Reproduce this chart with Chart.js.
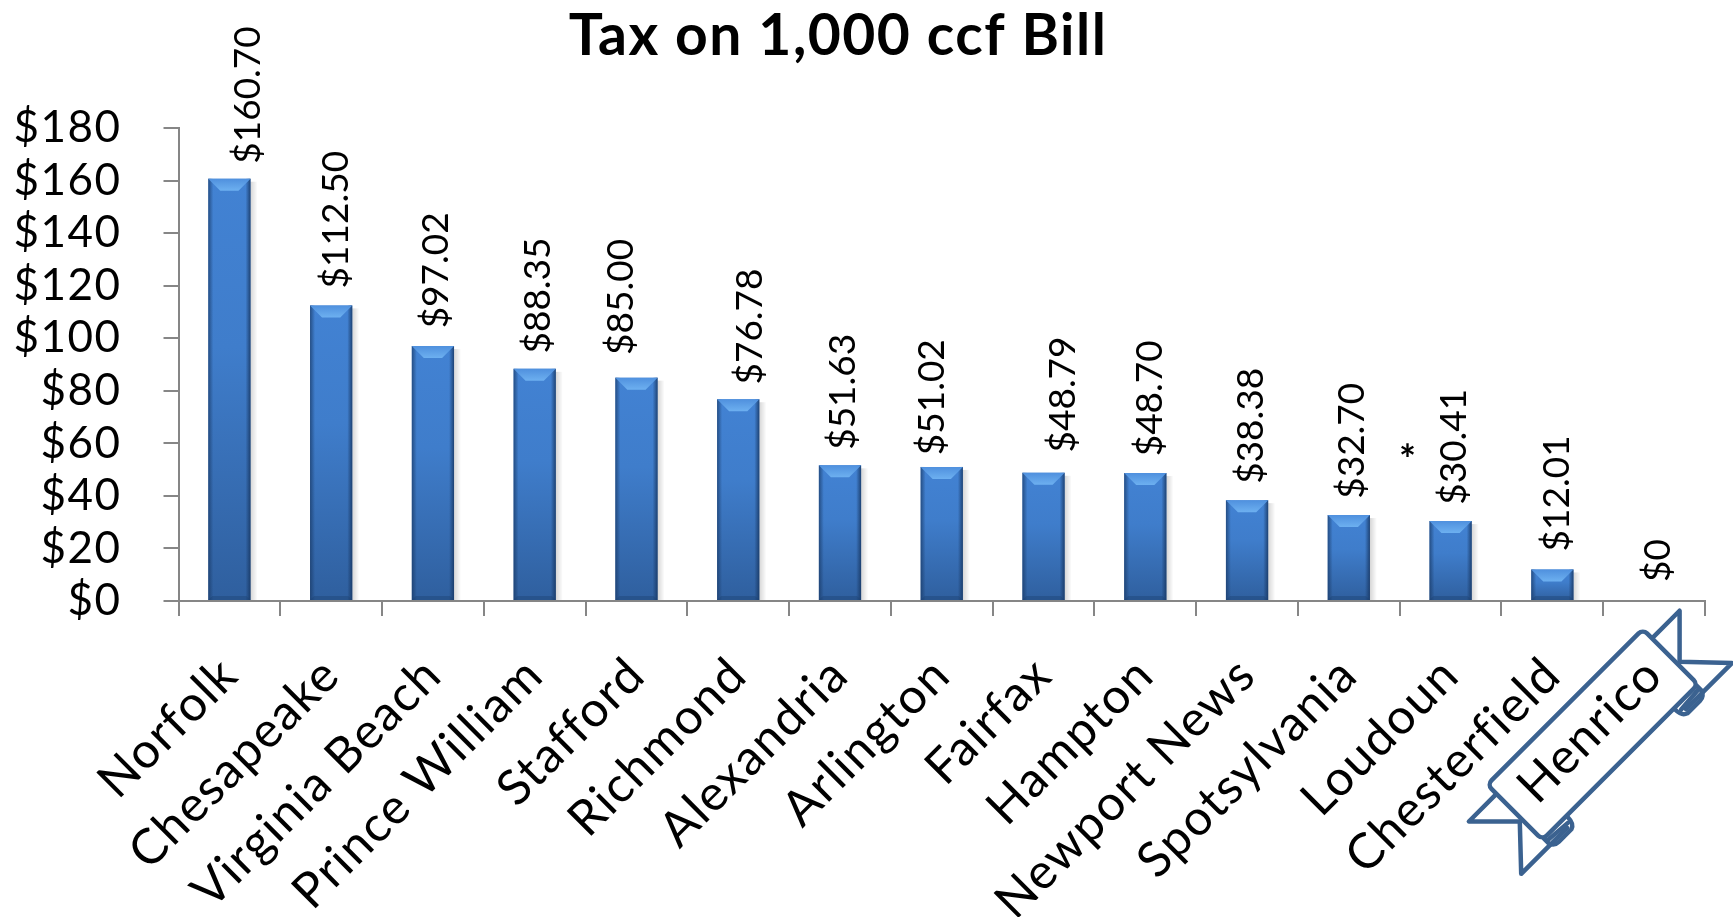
<!DOCTYPE html>
<html>
<head>
<meta charset="utf-8">
<title>Tax on 1,000 ccf Bill</title>
<script src="https://cdn.jsdelivr.net/npm/chart.js@4"></script>
<style>
html, body { margin: 0; padding: 0; background: #fff; }
#wrap { width: 1733px; height: 917px; position: relative; }
</style>
</head>
<body>
<div id="wrap"><canvas id="chart" width="1733" height="917"></canvas></div>
<script>
const categories = ['Norfolk', 'Chesapeake', 'Virginia Beach', 'Prince William', 'Stafford', 'Richmond', 'Alexandria', 'Arlington', 'Fairfax', 'Hampton', 'Newport News', 'Spotsylvania', 'Loudoun', 'Chesterfield', 'Henrico'];
const taxValues = [160.70, 112.50, 97.02, 88.35, 85.00, 76.78, 51.63, 51.02, 48.79, 48.70, 38.38, 32.70, 30.41, 12.01, 0];
const valueLabels = ['$160.70', '$112.50', '$97.02', '$88.35', '$85.00', '$76.78', '$51.63', '$51.02', '$48.79', '$48.70', '$38.38', '$32.70', '$30.41', '$12.01', '$0'];
const footnoteCategory = 'Loudoun';
const highlightCategory = 'Henrico';

// the labels were dragged by hand in the original, so each has its own nudge
const labelShiftX = [19, 4.5, 3.6, 3.1, -15, 12, 2.7, -9.4, 19.6, 4.5, 3.6, 3.6, 3.6, 4.5, 4];
const labelGapY = [15, 17, 17.7, 15.3, 22.7, 14.7, 15.5, 11.7, 20.3, 16.7, 16.3, 16.3, 16.3, 18, 19];

const FONT = 'Lato, "Open Sans", sans-serif';
const AXIS_COLOR = '#868686';
const RIBBON_COLOR = '#3b6290';

// each bar has its own fill, darker toward the bottom
function barFill(ctx) {
	const chart = ctx.chart;
	if (!chart.chartArea || ctx.type !== 'data') return '#3f7cc8';
	const y = chart.scales.y;
	const g = chart.ctx.createLinearGradient(0, y.getPixelForValue(ctx.parsed.y), 0, y.bottom);
	g.addColorStop(0, '#4282d3');
	g.addColorStop(0.4, '#3f7dcb');
	g.addColorStop(1, '#2f5f9e');
	return g;
}

// bevel + soft shadow on each bar, taken from the bar elements
const bevelPlugin = {
	id: 'bevel',
	afterDatasetsDraw(chart) {
		const c = chart.ctx;
		chart.getDatasetMeta(0).data.forEach((bar) => {
			const h = bar.base - bar.y;
			if (h <= 0) return;
			const l = bar.x - bar.width / 2, r = bar.x + bar.width / 2;
			const t = bar.y, b = bar.base;
			const e = 5;
			c.save();
			let g = c.createLinearGradient(l, 0, l + e, 0);
			g.addColorStop(0, 'rgba(24,56,100,0.7)');
			g.addColorStop(1, 'rgba(24,56,100,0)');
			c.fillStyle = g;
			c.fillRect(l, t, e, h);
			g = c.createLinearGradient(r - e, 0, r, 0);
			g.addColorStop(0, 'rgba(24,56,100,0)');
			g.addColorStop(1, 'rgba(24,56,100,0.85)');
			c.fillStyle = g;
			c.fillRect(r - e, t, e, h);
			// shadow to the right
			g = c.createLinearGradient(r, 0, r + 7, 0);
			g.addColorStop(0, 'rgba(0,0,0,0.16)');
			g.addColorStop(1, 'rgba(0,0,0,0)');
			c.fillStyle = g;
			c.fillRect(r, t + 3, 7, h - 3);
			// light top facet
			const f = 12;
			g = c.createLinearGradient(0, t, 0, t + f);
			g.addColorStop(0, '#4f90de');
			g.addColorStop(1, '#6db0f0');
			c.fillStyle = g;
			c.beginPath();
			c.moveTo(l, t);
			c.lineTo(r, t);
			c.lineTo(r - f, t + f);
			c.lineTo(l + f, t + f);
			c.closePath();
			c.fill();
			// darker bottom facet
			c.fillStyle = 'rgba(28,64,112,0.4)';
			c.beginPath();
			c.moveTo(l, b);
			c.lineTo(r, b);
			c.lineTo(r - 4, b - 4);
			c.lineTo(l + 4, b - 4);
			c.closePath();
			c.fill();
			c.restore();
		});
	}
};

// rotated labels above bars and the asterisk over Loudoun
const valueLabelPlugin = {
	id: 'valueLabels',
	afterDatasetsDraw(chart) {
		const c = chart.ctx;
		c.save();
		c.letterSpacing = '0px';
		c.fillStyle = '#000';
		chart.getDatasetMeta(0).data.forEach((bar, i) => {
			c.save();
			c.translate(bar.x + labelShiftX[i], bar.y - labelGapY[i]);
			c.rotate(-Math.PI / 2);
			c.font = '37px ' + FONT;
			c.textAlign = 'left';
			c.textBaseline = 'middle';
			c.fillText(valueLabels[i], 0, 0);
			c.restore();
			if (categories[i] === footnoteCategory) {
				c.font = 'bold 40px ' + FONT;
				c.textAlign = 'center';
				c.textBaseline = 'middle';
				c.fillText('*', bar.x - 43, bar.y - 60);
			}
		});
		c.restore();
	}
};

// ribbon behind the Henrico tick label
const ribbonPlugin = {
	id: 'ribbon',
	beforeDraw(chart) {
		const x = chart.scales.x, y = chart.scales.y;
		const c = chart.ctx;
		// axis text in the original is a wide face, so open the tracking up
		c.letterSpacing = '1.5px';
		const cx = x.getPixelForValue(categories.indexOf(highlightCategory)) - 61.5;
		const cy = y.bottom + 133.5;
		const poly = (pts) => {
			c.beginPath();
			pts.forEach((p, i) => i ? c.lineTo(p[0], p[1]) : c.moveTo(p[0], p[1]));
			c.stroke();
		};
		c.save();
		c.translate(cx, cy);
		c.rotate(-Math.PI / 4);
		c.strokeStyle = RIBBON_COLOR;
		c.lineWidth = 4.5;
		c.lineJoin = 'round';
		c.lineCap = 'round';
		[1, -1].forEach((s) => {
			poly([[s * 110, -26], [s * 149, -26], [s * 113, 10], [s * 149, 48], [s * 84, 48]]);
			// fold
			c.beginPath();
			c.moveTo(s * 108, 39);
			c.lineTo(s * 108, 46);
			c.quadraticCurveTo(s * 106, 52, s * 100, 52);
			c.lineTo(s * 82, 52);
			c.quadraticCurveTo(s * 76, 50, s * 76, 41);
			c.stroke();
			poly([[s * 106, 43], [s * 80, 45]]);
		});
		c.fillStyle = '#fff';
		c.beginPath();
		c.roundRect(-110, -39, 220, 78, 6);
		c.fill();
		c.stroke();
		c.restore();
	}
};

// title sits a bit left of the plot centre
const titleShiftPlugin = {
	id: 'titleShift',
	afterLayout(chart) {
		chart.titleBlock.left -= 14.5;
		chart.titleBlock.right -= 14.5;
	}
};

new Chart(document.getElementById('chart'), {
	type: 'bar',
	data: {
		labels: categories,
		datasets: [{
			data: taxValues,
			backgroundColor: barFill,
			barPercentage: 0.415,
			categoryPercentage: 1,
			borderWidth: 0
		}]
	},
	options: {
		responsive: false,
		animation: false,
		layout: { padding: { top: 0, right: 28, bottom: 0, left: 0 } },
		plugins: {
			legend: { display: false },
			tooltip: { enabled: false },
			title: {
				display: true,
				text: 'Tax on 1,000 ccf Bill',
				color: '#000',
				font: { family: FONT, size: 57, weight: 'bold', lineHeight: 1.2 },
				padding: { top: 2, bottom: 57.6 }
			}
		},
		scales: {
			x: {
				afterFit(s) { s.height = 316; },
				border: { color: AXIS_COLOR, width: 2 },
				grid: { drawOnChartArea: false, color: AXIS_COLOR, lineWidth: 2, tickLength: 15 },
				ticks: {
					autoSkip: false,
					maxRotation: 45,
					minRotation: 45,
					color: '#000',
					padding: 30,
					font: { family: FONT, size: 49 }
				}
			},
			y: {
				min: 0,
				max: 180,
				afterFit(s) { s.width = 178.5; },
				border: { color: AXIS_COLOR, width: 2 },
				grid: { drawOnChartArea: false, color: AXIS_COLOR, lineWidth: 2, tickLength: 15 },
				ticks: {
					autoSkip: false,
					stepSize: 20,
					color: '#000',
					padding: 42,
					font: { family: FONT, size: 44 },
					callback: (v) => '$' + v
				}
			}
		}
	},
	plugins: [ribbonPlugin, bevelPlugin, valueLabelPlugin, titleShiftPlugin]
});
</script>
</body>
</html>
